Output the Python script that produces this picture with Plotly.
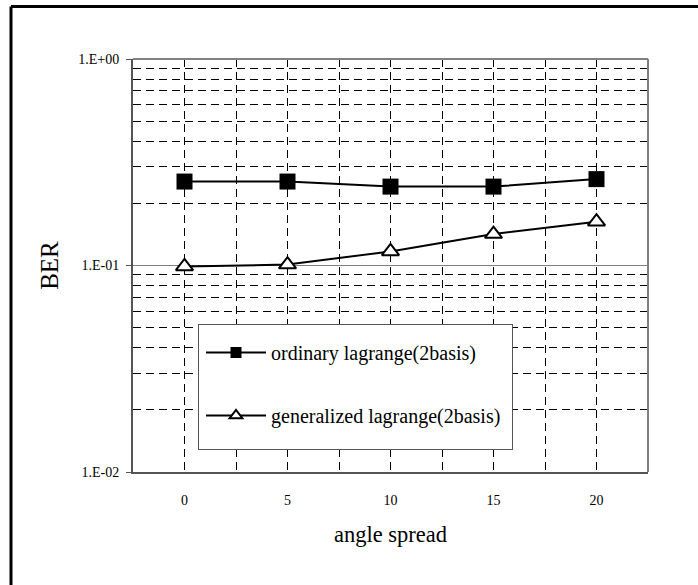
import plotly.graph_objects as go

categories = ["0", "5", "10", "15", "20"]
ordinary = [0.255, 0.255, 0.241, 0.241, 0.262]
generalized = [0.099, 0.101, 0.117, 0.142, 0.163]
name_ord = "ordinary lagrange(2basis)"
name_gen = "generalized lagrange(2basis)"
ytick_vals = [0.01, 0.1, 1]
ytick_text = ["1.E-02", "1.E-01", "1.E+00"]

FONT = "Liberation Serif"
W, H = 698, 585
L, R, T, B = 133, 50, 59, 113
pw, ph = W - L - R, H - T - B

xs = list(range(len(categories)))

sq_marker = dict(symbol="square", color="black")
tri_marker = dict(symbol="triangle-up", color="white", line=dict(color="black", width=2))

# blank text that only gives the legend box its size
box_line = "&nbsp;" * 101
box_text = "<br>".join([box_line] + ["&nbsp;"] * 7)

fig = go.Figure()
fig.add_trace(go.Scatter(
    x=xs, y=ordinary, name=name_ord, mode="lines+markers",
    line=dict(color="black", width=2),
    marker=dict(size=16, **sq_marker), showlegend=False,
))
fig.add_trace(go.Scatter(
    x=xs, y=generalized, name=name_gen, mode="lines+markers",
    line=dict(color="black", width=2),
    marker=dict(size=15, **tri_marker), showlegend=False,
))
# legend box (background legend, drawn first)
fig.add_trace(go.Scatter(
    x=[None], y=[None], name=box_text, mode="lines",
    line=dict(color="rgba(0,0,0,0)", width=0), legend="legend",
    hoverinfo="skip",
))
# legend entries (smaller markers, as in the original legend)
fig.add_trace(go.Scatter(
    x=[None], y=[None], name=name_ord, mode="lines+markers",
    line=dict(color="black", width=2),
    marker=dict(size=11, **sq_marker), legendgroup="a", legend="legend2",
))
fig.add_trace(go.Scatter(
    x=[None], y=[None], name=name_gen, mode="lines+markers",
    line=dict(color="black", width=2),
    marker=dict(size=11, **tri_marker), legendgroup="b", legend="legend2",
))

dash = "8px,5px"
fig.update_xaxes(
    range=[-0.5, len(categories) - 0.5],
    tickvals=xs, ticktext=categories,
    showgrid=True, gridcolor="black", gridwidth=1, griddash=dash,
    minor=dict(tick0=0.5, dtick=1, showgrid=True, gridcolor="black",
               gridwidth=1, griddash=dash),
    showline=True, linecolor="#555555", linewidth=2,
    ticks="", ticklabelstandoff=14,
    tickfont=dict(family=FONT, size=14, color="black"),
    title=dict(text="angle spread", font=dict(family=FONT, size=22.5, color="black"),
               standoff=19),
    zeroline=False,
)
fig.update_yaxes(
    type="log", range=[-2, 0],
    tickvals=ytick_vals, ticktext=ytick_text,
    showgrid=True, gridcolor="#808080", gridwidth=1,
    minor=dict(dtick="D1", showgrid=True, gridcolor="black", gridwidth=1,
               griddash=dash, ticks=""),
    showline=True, linecolor="#555555", linewidth=2,
    ticks="outside", ticklen=5, tickcolor="#555555", tickwidth=1,
    ticklabelstandoff=4,
    tickfont=dict(family=FONT, size=14, color="black"),
    title=dict(text="BER", font=dict(family=FONT, size=25, color="black"),
               standoff=12),
    zeroline=False,
)

top_y = 1 + (T - 6.5) / ph
fig.update_layout(
    width=W, height=H,
    margin=dict(l=L, r=R, t=T, b=B),
    paper_bgcolor="white", plot_bgcolor="white",
    showlegend=True,
    legend=dict(
        x=(198 - L) / pw, y=(H - B - 324) / ph, xanchor="left", yanchor="top",
        bgcolor="white", bordercolor="#555555", borderwidth=1,
        font=dict(family=FONT, size=10.6, color="white"),
        itemwidth=30,
    ),
    legend2=dict(
        x=(201 - L) / pw, y=(H - B - 333) / ph, xanchor="left", yanchor="top",
        bgcolor="rgba(0,0,0,0)", borderwidth=0,
        font=dict(family=FONT, size=20, color="black"),
        traceorder="grouped", tracegroupgap=34,
        itemwidth=60,
    ),
    shapes=[
        # top and right edges of the plot frame (grey)
        dict(type="line", xref="paper", yref="paper", x0=0, x1=1, y0=1, y1=1,
             line=dict(color="#808080", width=2), layer="above"),
        dict(type="line", xref="paper", yref="paper", x0=1, x1=1, y0=0, y1=1,
             line=dict(color="#808080", width=2), layer="above"),
        # outer chart frame (left and top visible)
        dict(type="line", xref="paper", yref="paper",
             x0=(11 - L) / pw, x1=(11 - L) / pw, y0=-0.6, y1=top_y,
             line=dict(color="black", width=3), layer="above"),
        dict(type="line", xref="paper", yref="paper",
             x0=(11 - L) / pw, x1=1.6, y0=top_y, y1=top_y,
             line=dict(color="black", width=3), layer="above"),
    ],
)

fig.write_html("out.html")
